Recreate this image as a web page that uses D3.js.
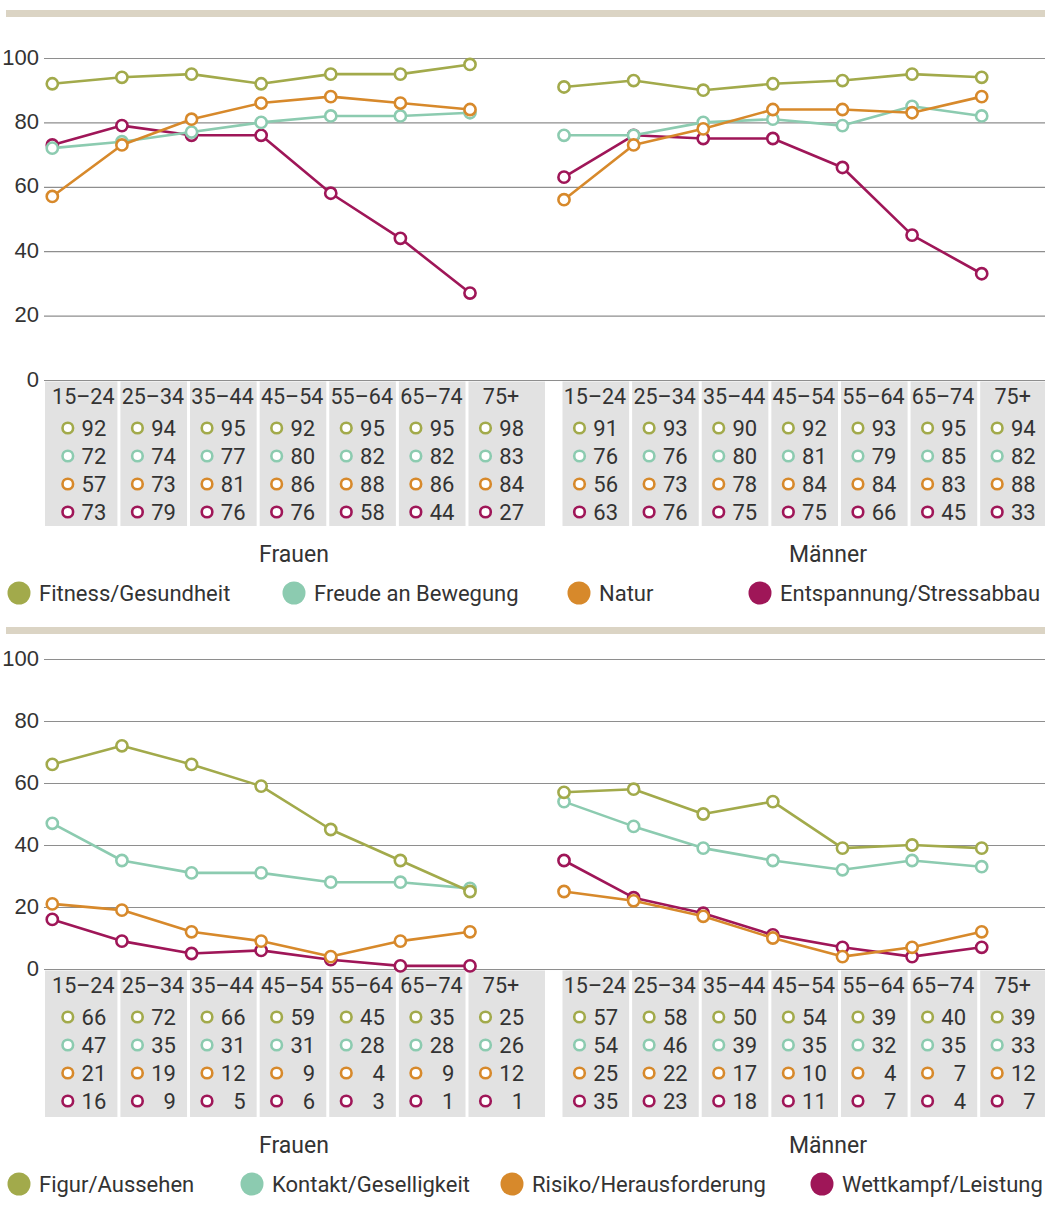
<!DOCTYPE html>
<html>
<head>
<meta charset="utf-8">
<script src="https://cdn.jsdelivr.net/npm/d3@7/dist/d3.min.js"></script>
<style>
  body { margin: 0; background: #fff; }
  svg { display: block; font-family: Roboto, "Open Sans", sans-serif; }
  .tick line { stroke: #8e8e8e; stroke-width: 1.2; }
  .tick text { font-size: 22px; fill: #333; }
</style>
</head>
<body>
<div id="chart"></div>
<script>
const ages = ['15–24', '25–34', '35–44', '45–54', '55–64', '65–74', '75+'];
const groups = ['Frauen', 'Männer'];
const yTicks = [0, 20, 40, 60, 80, 100];
const colors = ['#a2aa4b', '#8ccbb0', '#d7892b', '#9f1658'];

// oberes Diagramm
const motivesTop = ['Fitness/Gesundheit', 'Freude an Bewegung', 'Natur', 'Entspannung/Stressabbau'];
const fitnessF = [92, 94, 95, 92, 95, 95, 98];
const freudeF = [72, 74, 77, 80, 82, 82, 83];
const naturF = [57, 73, 81, 86, 88, 86, 84];
const entspannungF = [73, 79, 76, 76, 58, 44, 27];
const fitnessM = [91, 93, 90, 92, 93, 95, 94];
const freudeM = [76, 76, 80, 81, 79, 85, 82];
const naturM = [56, 73, 78, 84, 84, 83, 88];
const entspannungM = [63, 76, 75, 75, 66, 45, 33];

// unteres Diagramm
const motivesBottom = ['Figur/Aussehen', 'Kontakt/Geselligkeit', 'Risiko/Herausforderung', 'Wettkampf/Leistung'];
const figurF = [66, 72, 66, 59, 45, 35, 25];
const kontaktF = [47, 35, 31, 31, 28, 28, 26];
const risikoF = [21, 19, 12, 9, 4, 9, 12];
const wettkampfF = [16, 9, 5, 6, 3, 1, 1];
const figurM = [57, 58, 50, 54, 39, 40, 39];
const kontaktM = [54, 46, 39, 35, 32, 35, 33];
const risikoM = [25, 22, 17, 10, 4, 7, 12];
const wettkampfM = [35, 23, 18, 11, 7, 4, 7];

const width = 1045, height = 1216;

const svg = d3.select('#chart').append('svg')
  .attr('width', width)
  .attr('height', height);

// x-Positionen der Punkte je Gruppe
const xScales = [
  d3.scaleLinear().domain([0, 6]).range([52.3, 470]),
  d3.scaleLinear().domain([0, 6]).range([564, 981.7])
];
const groupEnds = [545, 1045];
const groupLabelX = [294, 828];
const legendX = [
  [19, 294, 579, 760],
  [19, 252, 512, 822]
];

// Zeichenreihenfolge: Entspannung unten, Fitness oben
const drawOrder = [3, 1, 2, 0];

function drawPanel(cfg) {
  const g = svg.append('g');

  g.append('rect')
    .attr('x', 6).attr('y', cfg.band)
    .attr('width', width - 6).attr('height', 7)
    .attr('fill', '#dbd4c4');

  const y = d3.scaleLinear().domain([0, 100]).range([cfg.y0, cfg.y100]);

  const axis = g.append('g')
    .attr('transform', 'translate(44,0)')
    .call(d3.axisLeft(y)
      .tickValues(yTicks)
      .tickSize(-(width - 44))
      .tickPadding(5)
      .tickFormat(d3.format('d')));
  axis.select('.domain').remove();
  axis.selectAll('.tick text').attr('dy', '0.28em');

  // Tabelle
  cfg.data.forEach((series, gi) => {
    const x = xScales[gi];
    const table = g.append('g');

    ages.forEach((age, i) => {
      let x0 = i === 0 && gi === 0 ? 45 : x(i) - 1.5;
      let x1 = i === 6 ? groupEnds[gi] : x(i + 1) - 4.5;
      table.append('rect')
        .attr('x', x0).attr('y', cfg.y0 + 1.5)
        .attr('width', x1 - x0).attr('height', cfg.tableBottom - cfg.y0 - 1.5)
        .attr('fill', '#e2e2e2');

      table.append('text')
        .attr('x', x(i) + 31).attr('y', cfg.y0 + 24)
        .attr('text-anchor', 'middle')
        .attr('font-size', 21.5)
        .attr('fill', '#333')
        .text(age);

      series.forEach((vals, si) => {
        const cy = cfg.y0 + 48 + si * 28;
        table.append('circle')
          .attr('cx', x(i) + 15.5).attr('cy', cy).attr('r', 5.3)
          .attr('fill', '#fff')
          .attr('stroke', colors[si]).attr('stroke-width', 2.6);
        table.append('text')
          .attr('x', x(i) + 54).attr('y', cy).attr('dy', '0.36em')
          .attr('text-anchor', 'end')
          .attr('font-size', 22)
          .attr('fill', '#333')
          .text(vals[i]);
      });
    });

    g.append('text')
      .attr('x', groupLabelX[gi]).attr('y', cfg.tableBottom + 36)
      .attr('text-anchor', 'middle')
      .attr('font-size', 23)
      .attr('fill', '#333')
      .text(groups[gi]);
  });

  // Linien und Punkte
  const line = d3.line()
    .x(d => d.x)
    .y(d => y(d.v));

  drawOrder.forEach(si => {
    cfg.data.forEach((series, gi) => {
      const pts = series[si].map((v, i) => ({ x: xScales[gi](i), v: v }));
      g.append('path')
        .datum(pts)
        .attr('d', line)
        .attr('fill', 'none')
        .attr('stroke', colors[si])
        .attr('stroke-width', 2.6)
        .attr('stroke-linejoin', 'round');
      g.selectAll(null)
        .data(pts)
        .enter().append('circle')
          .attr('cx', d => d.x)
          .attr('cy', d => y(d.v))
          .attr('r', 5.6)
          .attr('fill', '#fff')
          .attr('stroke', colors[si])
          .attr('stroke-width', 2.6);
    });
  });

  // Legende
  const ly = cfg.tableBottom + 67;
  cfg.motives.forEach((m, i) => {
    const lx = legendX[cfg.index][i];
    g.append('circle')
      .attr('cx', lx).attr('cy', ly).attr('r', 11.5)
      .attr('fill', colors[i]);
    g.append('text')
      .attr('x', lx + 20).attr('y', ly).attr('dy', '0.36em')
      .attr('font-size', 22)
      .attr('fill', '#333')
      .text(m);
  });
}

drawPanel({
  index: 0,
  band: 10, y100: 58, y0: 380, tableBottom: 526,
  motives: motivesTop,
  data: [
    [fitnessF, freudeF, naturF, entspannungF],
    [fitnessM, freudeM, naturM, entspannungM]
  ]
});

drawPanel({
  index: 1,
  band: 627, y100: 659, y0: 969, tableBottom: 1117,
  motives: motivesBottom,
  data: [
    [figurF, kontaktF, risikoF, wettkampfF],
    [figurM, kontaktM, risikoM, wettkampfM]
  ]
});
</script>
</body>
</html>
